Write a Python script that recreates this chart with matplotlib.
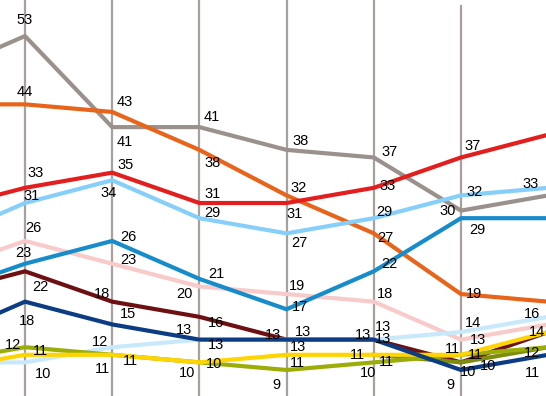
import numpy as np
import matplotlib.pyplot as plt

# one column per poll, first and last are partly outside the crop
polls = [0, 1, 2, 3, 4, 5, 6, 7]

grey = [48, 53, 41, 41, 38, 37, 30, 32]
orange = [44, 44, 43, 38, 32, 27, 19, 18]
red = [30, 33, 35, 31, 31, 33, 37, 40]
lightblue = [26, 31, 34, 29, 27, 29, 32, 33]
pink = [22, 26, 23, 20, 19, 18, 13, 15]
medblue = [19, 23, 26, 21, 17, 22, 29, 29]
maroon = [19, 22, 18, 16, 13, 13, 10, 14]
navy = [13, 18, 15, 13, 13, 13, 9, 11]
olive = [10, 12, 11, 10, 9, 10, 11, 12]
yellow = [9, 11, 11, 10, 11, 11, 11, 14]
cyan = [10, 10, 12, 13, 13, 13, 14, 16]
darkolive = [np.nan, np.nan, np.nan, np.nan, np.nan, 11, 10, 12]

series = [
    ("grey", grey, "#9B918C"),
    ("orange", orange, "#E8641B"),
    ("pink", pink, "#F8CACA"),
    ("medblue", medblue, "#178CCB"),
    ("lightblue", lightblue, "#86CFFA"),
    ("red", red, "#E31E1E"),
    ("maroon", maroon, "#6E1012"),
    ("cyan", cyan, "#C8E9FB"),
    ("darkolive", darkolive, "#7E8C0C"),
    ("olive", olive, "#9CAD08"),
    ("yellow", yellow, "#FFD500"),
    ("navy", navy, "#0B3C84"),
]

# label offsets in pixels (dx, dy with dy downwards), one per poll
# None = label not visible in the crop
offsets = {
    "grey": [None, (0, -16), (13, 15), (12, -10), (14, -9), (16, -5), (-13, 0), None],
    "orange": [None, (0, -12), (13, -10), (13, 13), (12, -7), (12, 5), (13, 0), None],
    "red": [None, (11, -15), (13, -8), (13, -9), (8, 11), (14, -2), (12, -11), None],
    "lightblue": [None, (7, -7), (-4, 13), (13, -5), (13, 10), (11, -6), (14, -3), (-18, -4)],
    "pink": [None, (8, -13), (16, -4), (-15, 8), (10, -8), (11, -8), (17, 0), None],
    "medblue": [None, (-2, -11), (16, -4), (17, -5), (13, -2), (16, -7), (16, 12), None],
    "maroon": [None, (15, 16), (-10, -8), (17, 6), (-14, -5), (-11, -5), (7, 10), (-11, 0)],
    "navy": [None, (2, 19), (16, -10), (-15, -10), (16, -8), (9, -13), (-11, 15), (-16, 18)],
    "olive": [None, (-12, -2), (18, 6), (15, 2), (-10, 15), (-6, 11), (14, 0), (-16, 6)],
    "yellow": [None, (15, -4), (-10, 14), (-12, 11), (11, 8), (-16, 0), (-9, -6), None],
    "cyan": [None, (18, 12), (-12, -5), (17, 5), (11, 7), (9, -1), (12, -9), (-16, -3)],
    "darkolive": [None, None, None, None, None, (13, 7), (27, 4), None],
}

plt.rcParams["font.family"] = ["Liberation Sans", "DejaVu Sans"]

fig = plt.figure(figsize=(5.46, 3.96), dpi=100)
ax = fig.add_axes([0, 0, 1, 1])

# vertical grid at each poll
grid_top = [1, 1, 1, 1, 1, 0.985]
for i, top in zip(polls[1:7], grid_top):
    ax.axvline(i, ymin=0, ymax=top, color="#A8A09B", lw=1.6, zorder=0)

for name, vals, col in series:
    ax.plot(polls, vals, color=col, lw=3, solid_joinstyle="miter", zorder=2)

for name, vals, col in series:
    for i, v in enumerate(vals):
        off = offsets[name][i]
        if off is None or np.isnan(v):
            continue
        ax.annotate(str(int(v)), (polls[i], v), xytext=(off[0], -off[1]),
                    textcoords="offset pixels", ha="center", va="center",
                    fontsize=10.5, color="black", zorder=3, annotation_clip=False)

ax.set_xlim(0.7133, 6.975)
ax.set_ylim(5.57, 57.75)
ax.axis("off")

fig.savefig("out.png", dpi=100)
